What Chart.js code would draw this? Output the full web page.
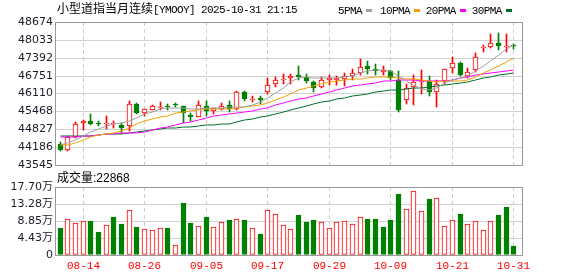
<!DOCTYPE html>
<html><head><meta charset="utf-8">
<script src="https://cdn.jsdelivr.net/npm/chart.js@4.4.1/dist/chart.umd.min.js"></script>
<style>
body{margin:0;background:#fff;}
#wrap{position:relative;width:578px;height:276px;overflow:hidden;background:#fff;}
canvas{position:absolute;left:0;top:0;}
.t{position:absolute;white-space:nowrap;color:#000;line-height:14px;}
.cjk{font-family:'Noto Sans CJK SC';font-size:12px;}
.mono{font-family:'Liberation Mono';font-size:11px;letter-spacing:-0.6px;}
.sans{font-family:'Liberation Sans';font-size:12px;}
.box{display:inline-block;width:6px;height:3px;margin-left:4px;vertical-align:2px;}
</style></head>
<body>
<div id="wrap">
<canvas id="c1" width="578" height="276"></canvas>
<canvas id="c2" width="578" height="276"></canvas>
</div>
<script>
const dates = ['08-11','08-12','08-13','08-14','08-15','08-18','08-19','08-20','08-21','08-22','08-25','08-26','08-27','08-28','08-29',
'09-01','09-02','09-03','09-04','09-05','09-08','09-09','09-10','09-11','09-12','09-15','09-16','09-17','09-18','09-19','09-22','09-23','09-24','09-25','09-26','09-29','09-30',
'10-01','10-02','10-03','10-06','10-07','10-08','10-09','10-10','10-13','10-14','10-15','10-16','10-17','10-20','10-21','10-22','10-23','10-24','10-27','10-28','10-29','10-30','10-31'];
const openP  = [44296,44074,44539,45040,45130,45047,45012,45022,44987,44940,45728,45427,45534,45606,45649,45703,45649,45355,45284,45667,45488,45559,45685,45549,46168,45882,45935,46179,46444,46587,46658,46759,46705,46526,46329,46608,46598,46644,46752,46837,47081,46981,46884,46902,46580,45864,46336,46515,46562,46150,46562,47016,47206,46752,46945,47754,47790,47911,47761,47840];
const highP  = [44353,44575,45094,45166,45380,45130,45309,45141,45040,45846,45774,45549,45692,45810,45728,45763,45678,45405,45846,45857,45606,45785,45846,46204,46204,46014,46025,46669,46705,46794,46802,47088,46794,46562,46687,46777,46741,46859,46973,47331,47278,47152,47081,46956,46920,46436,46759,46938,46741,46580,46991,47403,47242,47027,47575,47851,48226,48291,48244,47876];
const lowP   = [44031,44056,44521,44790,44987,44951,44843,44868,44700,44772,45370,45309,45506,45524,45506,45613,45058,45130,45255,45291,45370,45506,45434,45524,45846,45821,45738,46078,46347,46454,46454,46598,46472,46150,46293,46419,46401,46383,46598,46777,46812,46777,46777,46598,45434,45720,45685,46096,46007,45631,46454,46848,46723,46651,46895,47611,47754,47672,47600,47697];
const closeP = [44092,44539,45012,45130,45012,45022,45047,45058,44879,45728,45416,45542,45656,45642,45631,45685,45416,45273,45703,45488,45584,45678,45559,46168,45899,45917,45864,46419,46587,46633,46752,46687,46544,46293,46580,46658,46651,46730,46837,47052,47002,46902,46945,46651,45513,46300,46515,46544,46179,46447,46981,47195,46759,46895,47410,47790,47911,47826,47790,47815];
const ma5  = [44271,44331,44432,44568,44715,44851,44940,45012,45062,45130,45219,45363,45463,45541,45584,45602,45584,45563,45549,45581,45592,45599,45610,45624,45638,45688,45796,45953,46132,46308,46533,46662,46705,46673,46659,46659,46659,46684,46744,46838,46909,46956,46966,46920,46741,46540,46401,46261,46218,46301,46487,46605,46676,46737,46923,47106,47289,47485,47707,47851];
const ma10 = [44253,44271,44342,44432,44539,44611,44654,44693,44772,44861,45005,45123,45184,45255,45320,45398,45459,45499,45520,45541,45552,45556,45559,45588,45620,45653,45685,45767,45860,45968,46075,46222,46318,46365,46437,46526,46555,46580,46616,46644,46673,46694,46709,46719,46669,46641,46619,46576,46540,46537,46540,46551,46562,46608,46716,46838,46959,47102,47238,47396];
const ma20 = [44532,44539,44553,44575,44600,44618,44639,44657,44675,44693,44707,44743,44815,44876,44908,44965,45048,45101,45155,45219,45295,45337,45373,45413,45456,45499,45541,45606,45681,45756,45828,45900,45964,46032,46100,46172,46240,46308,46376,46411,46454,46497,46548,46573,46594,46590,46580,46569,46558,46548,46562,46598,46648,46705,46759,46812,46848,46884,46920,46956];
const ma30 = [44568,44571,44579,44586,44596,44611,44643,44657,44668,44690,44718,44754,44786,44826,44858,44876,44894,44915,44940,44969,44987,45012,45033,45076,45144,45209,45262,45302,45363,45445,45516,45581,45653,45724,45792,45857,45910,45957,46003,46050,46096,46150,46200,46236,46250,46275,46297,46318,46351,46383,46419,46454,46483,46537,46598,46651,46705,46759,46805,46838];
const volume = [70000,92500,82900,87300,88100,59600,76900,98500,80300,118400,72500,66600,64000,69200,70000,25100,135500,83700,75100,98500,72500,85500,90700,95000,90700,69200,54400,118400,106200,76900,66600,103600,86300,90700,85500,69200,85500,87300,80300,97700,92500,92500,72500,90700,158000,121000,165800,114000,145100,149500,75100,90700,106200,80300,88100,64800,88100,103600,124400,22868];
const volUp  = [0,1,1,1,0,0,1,0,0,1,0,1,1,1,0,1,0,0,1,0,1,1,0,1,0,1,0,1,1,1,1,0,0,0,1,1,1,1,1,1,0,0,0,0,0,1,1,1,0,1,1,1,0,1,1,1,1,0,0,0];
const priceTicks = [43545,44186,44827,45468,46110,46751,47392,48033,48674];
const volTicks = [0,44250,88500,132750,177000];
const volTickLabels = ['0','4.43万','8.85万','13.28万','17.70万'];
const xTickLabels = ['08-14','08-26','09-05','09-17','09-29','10-09','10-21','10-31'];
const titleName = '小型道指当月连续';
const titleCode = '[YMOOY] 2025-10-31 21:15';
const maNames = ['5PMA','10PMA','20PMA','30PMA'];
const volName = '成交量';

const RED = '#ff0000', GREEN = '#008000';
const maColors = ['#a0a0a0','#f5a000','#ff00ff','#006f2a'];
const n = dates.length;
const xIdx = xTickLabels.map(l => dates.indexOf(l));
const up = closeP.map((c, i) => c >= openP[i]);

// linear scales that snap to device pixels so 1px wicks and borders stay crisp
class SnapX extends Chart.LinearScale {
  getPixelForValue(v) { return Math.round(super.getPixelForValue(v) - 0.5) + 0.5; }
}
SnapX.id = 'snapx';
SnapX.defaults = Chart.LinearScale.defaults;
class SnapY extends Chart.LinearScale {
  getPixelForValue(v) { return Math.round(super.getPixelForValue(v)); }
}
SnapY.id = 'snapy';
SnapY.defaults = Chart.LinearScale.defaults;
Chart.register(SnapX, SnapY);

const framePlugin = {
  id: 'frame',
  afterDatasetsDraw(chart) {
    const {ctx, chartArea: a} = chart;
    ctx.save();
    ctx.strokeStyle = '#999';
    ctx.lineWidth = 1;
    ctx.strokeRect(Math.round(a.left) + 0.5, Math.round(a.top) + 0.5, Math.round(a.right - a.left), Math.round(a.bottom - a.top));
    ctx.restore();
  }
};

function xScale(show) {
  return {
    type: 'snapx', min: -0.65, max: n - 1 + 1.05, offset: false,
    afterBuildTicks(s) { s.ticks = xIdx.map(v => ({value: v})); },
    afterFit(s) { s.height = show ? 21 : 0; },
    grid: {color: '#cccccc', drawTicks: false, offset: false},
    border: {display: false, dash: [4, 3]},
    ticks: {display: show, autoSkip: false, maxRotation: 0, padding: 4, color: RED,
      font: {family: "'Liberation Mono'", size: 11}, callback: v => dates[v]}
  };
}
function yScale(min, max, tickVals, labelFn) {
  return {
    type: 'snapy', min: min, max: max,
    afterFit(s) { s.width = 55; },
    afterBuildTicks(s) { s.ticks = tickVals.map(v => ({value: v})); },
    grid: {color: '#d2d2d2', drawTicks: false},
    border: {display: false},
    ticks: {autoSkip: false, padding: 2, color: '#1a1a2a',
      font: {family: "Verdana, 'DejaVu Sans', 'Noto Sans CJK SC'", size: 11}, callback: labelFn}
  };
}

const lineDs = (vals, i) => ({
  type: 'line', label: maNames[i], data: vals.map((v, k) => ({x: k, y: v})),
  borderColor: maColors[i], borderWidth: 1, pointRadius: 0, tension: 0, order: 1
});

new Chart(document.getElementById('c1'), {
  type: 'bar',
  data: {datasets: [
    {type: 'bar', data: dates.map((d, i) => ({x: i, y: [lowP[i], highP[i]]})),
     backgroundColor: up.map(u => u ? RED : GREEN), borderWidth: 0, barThickness: 1, grouped: false, order: 3},
    {type: 'bar', data: dates.map((d, i) => ({x: i, y: [openP[i], closeP[i]]})),
     backgroundColor: up.map(u => u ? '#ffffff' : GREEN), borderColor: up.map(u => u ? RED : GREEN),
     borderWidth: 1, borderSkipped: false, barThickness: 5, minBarLength: 1, grouped: false, order: 2},
    lineDs(ma5, 0), lineDs(ma10, 1), lineDs(ma20, 2), lineDs(ma30, 3)
  ]},
  options: {
    responsive: false, animation: false, devicePixelRatio: 1,
    layout: {padding: {top: 22, right: 56, bottom: 111, left: 0}},
    plugins: {legend: {display: false}, tooltip: {enabled: false}},
    scales: {x: xScale(false), y: yScale(priceTicks[0], priceTicks[priceTicks.length - 1], priceTicks, v => String(v))}
  },
  plugins: [framePlugin]
});

new Chart(document.getElementById('c2'), {
  type: 'bar',
  data: {datasets: [
    {type: 'bar', data: volume.map((v, i) => ({x: i, y: v})),
     backgroundColor: volUp.map(u => u ? '#ffffff' : GREEN), borderColor: volUp.map(u => u ? RED : GREEN),
     borderWidth: 1, borderSkipped: false, barThickness: 5, grouped: false}
  ]},
  options: {
    responsive: false, animation: false, devicePixelRatio: 1,
    layout: {padding: {top: 187, right: 56, bottom: 0, left: 0}},
    plugins: {legend: {display: false}, tooltip: {enabled: false}},
    scales: {x: xScale(true), y: yScale(volTicks[0], volTicks[volTicks.length - 1], volTicks, (v, i) => volTickLabels[i])}
  },
  plugins: [framePlugin]
});

const wrap = document.getElementById('wrap');
function addText(html, left, top) {
  const d = document.createElement('div');
  d.className = 't';
  d.style.left = left + 'px';
  d.style.top = top + 'px';
  d.innerHTML = html;
  wrap.appendChild(d);
}
addText('<span class="cjk">' + titleName + '</span><span class="mono">' + titleCode + '</span>', 57, 1);
const legLeft = [338, 380, 425.7, 471.7];
maNames.forEach((name, i) => {
  addText('<span class="mono">' + name + '</span><span class="box" style="background:' + maColors[i] + '"></span>', legLeft[i], 2);
});
addText('<span class="cjk">' + volName + '</span><span class="sans">:' + volume[n - 1] + '</span>', 57, 170);
</script>
</body></html>
